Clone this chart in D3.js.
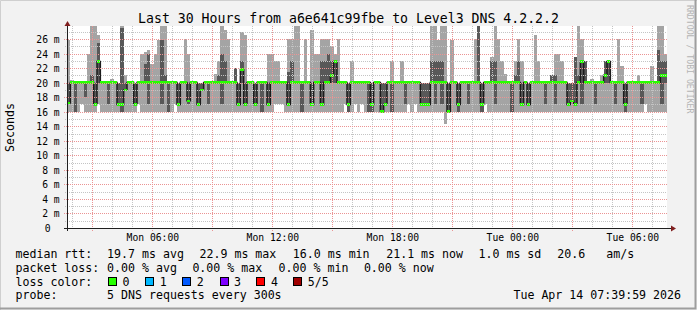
<!DOCTYPE html>
<html>
<head>
<meta charset="utf-8">
<script src="https://cdn.jsdelivr.net/npm/d3@7"></script>
<style>
  body { margin: 0; background: #ffffff; overflow: hidden; }
  text { font-family: "DejaVu Sans Mono", monospace; }
</style>
</head>
<body>
<script>
// 30 hours, one sample every 10 minutes (5 pings per sample, sorted: lo <= q1 <= med <= q3 <= hi), in ms
const lo = [
  16,16,16,16,17,16,16,16,16,17, 16,16,16,16,16,16,16,16,16,16, 16,17,16,16,16,16,16,16,16,16,
  16,16,17,16,16,16,16,16,16,16, 16,16,16,16,16,16,16,16,16,16, 16,16,16,16,16,16,16,16,16,16,
  16,16,17,17,17,16,16,16,16,16, 16,16,16,16,16,16,16,16,16,16, 16,16,16,17,16,16,17,16,17,16,
  16,16,16,16,16,16,16,16,16,16, 16,16,17,16,17,16,16,16,16,16, 16,16,16,14.3,16,16,16,16,16,16,
  16,16,16,16,16,17,16,16,16,16, 16,16,16,16,16,16,16,16,16,16, 16,16,16,16,16,16,16,16,16,16,
  16,16,16,16,16,16,16,16,16,16, 16,16,16,16,16,16,16,16,16,16, 16,16,16,17,16,16,16,16,16,16
];
const q1 = [
  17,20,16,20,20,18,20,20,17,20, 20,20,17,20,20,17,16,19,20,20, 17,20,20,20,17,20,20,20,17,20,
  16,20,20,17,20,20,17,20,20,17, 19,20,17,20,20,20,17,20,20,20, 20,17,20,17,20,20,17,20,16,20,
  17,20,20,20,20,20,17,20,20,20, 16,20,20,17,20,20,17,20,20,20, 20,20,20,20,16,20,20,20,20,20,
  16,16,20,20,16,17,20,16,20,20, 20,17,20,20,20,20,17,17,17,20, 17,20,17,20,16,20,20,16,20,20,
  17,20,20,20,16,20,20,20,17,20, 20,20,20,16,20,20,17,20,17,20, 20,20,20,17,20,20,17,20,20,20,
  17,17.5,17,20,17,20,20,20,17,20, 20,20,20,20,17,20,20,16,20,20, 20,20,17,20,20,20,20,20,17,20
];
const med = [
  17.2,20,20,20,20,20,20,20,17,22.9, 20,20,20,20,20,17,17,19,20,20, 17,20,20,20,20,20,20,20,20,20,
  20,20,20,17,20,20,17.5,20,20,17, 19,20,20,20,20,20,20,20,20,20, 20,17,21.8,17,20,20,17,20,20,20,
  17,20,20,20,20,20,17,20,20,20, 20,20,20,17,20,20,17,20,20,21, 22.9,20,20,20,17,20,20,20,20,20,
  20,17,20,20,16,17,20,20,20,20, 20,20,20,20,20,20,17,17,17,20, 20,20,20,20,16,20,20,17,20,20,
  20,20,20,20,17,20,20,20,20,20, 20,20,20,20,20,20,17,20,17,20, 20,20,20,20,20,20,20,20,20,20,
  17,17.5,17,20,22.9,20,20,20,20,20, 20,21,22.9,20,20,20,20,17,20,20, 20,20,20,20,20,20,20,20,21,21
];
const q3 = [
  20,20,20,20,20,20,20,21,20,25.5, 20,20,20,20,20,20,27.5,20,20,20, 20,20,20,22.5,24,20,20,20,25.8,21,
  20,20,20,20,20,20,20,20,20,20, 20,20,20,20,20,21,24,23,20,20, 22,20,23,20,20,20,20,20,20,20,
  20,20,20,20,20,20,21.5,23,20,20, 20,20,20,20,20,20,23,23,24,23, 23,20,20,20,20,20,20,20,20,20,
  20,20,20,20,20,20,20,20,20,20, 20,20,20,20,20,20,20,20,20,23, 23,23,23,20,20,20,20,20,20,20,
  20,20,20,27.8,20,20,20,23,23,20, 20,20,20,20,21,23,20,20,20,20, 20,20,20,20,20,21,21,20,20,20,
  20,20,23.5,21,23,23,20,20,20,20, 20,23,23,20,20,20,20,20,20,20, 20,20,20,20,20,20,20,24.5,23,23
];
const hi = [
  25.8,20.3,20,20,20,20,24,28,28,26.5, 20,20,20,20.5,20,20,28,21,20,20, 20,20,24,24.2,24.5,22.5,24,25.8,27.8,27.8,
  20,20,20,20,20,26,24,20,20,20, 20,20,20,20,21.2,23,27.8,27.2,26,20, 22,20,27,26.5,20,20,20,20,20,20,
  24,24,23,23,20,20,26,26,27.8,27.8, 20,26,20,27.2,24,24,26,26,26,25, 24,26,20,20,20,23,20,20,20,20,
  20,20,20,20,20,20,20,23,20,20, 23,20,20,20,20,20,20,20,20,27.8, 27.8,25.8,27.8,27.8,20,25.8,20,20,20,20,
  20,20,26,27.8,20,20,20,23.5,27.8,26, 23,21.2,20,20,23,26,23,20,20,20, 26.5,23,20,20,20,21,24,24,23,20,
  20,20,23.5,27.8,26,23,20,20.5,20,20, 21,23,23,20,20,26,22.3,20,20,20, 20,21,20,20,20,22.3,20,27.8,27.8,24
];

const yTicks = [0, 2, 4, 6, 8, 10, 12, 14, 16, 18, 20, 22, 24, 26];
const title = "Last 30 Hours from a6e641c99fbe to Level3 DNS 4.2.2.2";
const medianLegend = ["median rtt:", "19.7 ms avg", "22.9 ms max", "16.0 ms min", "21.1 ms now", "1.0 ms sd", "20.6", "am/s"];
const lossLegend = ["packet loss:", "0.00 % avg", "0.00 % max", "0.00 % min", "0.00 % now"];
const lossLabels = ["0", "1", "2", "3", "4", "5/5"];
const lossColors = ["#26ff00", "#00b8ff", "#0059ff", "#7e00ff", "#ff0000", "#a00000"];
const probeLegend = ["probe:", "5 DNS requests every 300s"];
const stamp = "Tue Apr 14 07:39:59 2026";

const W = 697, H = 310;
const pLeft = 67, pRight = 667, pBase = 228, pTop = 26;
const t0 = new Date(2026, 3, 13, 1, 44), t1 = new Date(2026, 3, 14, 7, 44);
const step = 10 * 60 * 1000;
const times = med.map((d, i) => new Date(+t0 + i * step));

const x = d3.scaleTime().domain([t0, t1]).range([pLeft, pRight]);
const y = d3.scaleLinear().domain([0, 27.79]).range([pBase, pTop]);

const svg = d3.select("body").append("svg")
  .attr("width", W).attr("height", H)
  .attr("xmlns", "http://www.w3.org/2000/svg");

// background + shading frame
svg.append("rect").attr("width", W).attr("height", H).attr("fill", "#f2f2f2");
svg.append("path").attr("d", `M0.5,${H}V0.5H${W}`).attr("fill", "none").attr("stroke", "#cfcfcf");
svg.append("path").attr("d", `M0,${H - 1.5}H${W - 1.5}V0`).attr("fill", "none")
  .attr("stroke", "#9e9e9e").attr("stroke-width", 2);

// canvas
svg.append("rect").attr("x", pLeft).attr("y", pTop)
  .attr("width", pRight - pLeft).attr("height", pBase - pTop).attr("fill", "#ffffff");

svg.append("clipPath").attr("id", "plot").append("rect")
  .attr("x", pLeft).attr("y", pTop).attr("width", pRight - pLeft).attr("height", pBase - pTop);

const plot = svg.append("g").attr("clip-path", "url(#plot)").attr("shape-rendering", "crispEdges");
const colX = i => x(times[i]);
const colW = i => x(new Date(+times[i] + step)) - x(times[i]);

// smoke: outer pair (lo..hi) light, inner pair (q1..q3) dark
plot.selectAll(".smoke1").data(med).enter().append("rect")
  .attr("x", (d, i) => colX(i)).attr("width", (d, i) => colW(i))
  .attr("y", (d, i) => y(hi[i])).attr("height", (d, i) => y(lo[i]) - y(hi[i]))
  .attr("fill", "#a4a4a4");
plot.selectAll(".smoke2").data(med).enter().append("rect")
  .attr("x", (d, i) => colX(i)).attr("width", (d, i) => colW(i))
  .attr("y", (d, i) => y(q3[i])).attr("height", (d, i) => y(q1[i]) - y(q3[i]))
  .attr("fill", "#585858");

// median connecting line
const pts = med.map((d, i) => [colX(i), y(d)]);
pts.push([pRight, y(med[med.length - 1])]);
plot.append("path")
  .attr("d", d3.line().curve(d3.curveStepAfter)(pts))
  .attr("fill", "none").attr("stroke", "#1c1c1c").attr("stroke-width", 1.5)
  .attr("shape-rendering", "auto");

// median marks coloured by loss (all 0 loss)
plot.selectAll(".med").data(med).enter().append("rect")
  .attr("x", (d, i) => colX(i)).attr("width", (d, i) => colW(i))
  .attr("y", d => y(d) - 1.2).attr("height", 2.4)
  .attr("fill", lossColors[0]);

// grid
const grid = svg.append("g").attr("shape-rendering", "crispEdges").attr("stroke-dasharray", "1,1");
grid.selectAll(".hmin").data(d3.range(1, 28, 2)).enter().append("line")
  .attr("x1", pLeft - 2).attr("x2", pRight)
  .attr("y1", d => Math.round(y(d)) + 0.5).attr("y2", d => Math.round(y(d)) + 0.5)
  .attr("stroke", "#c4c4c4");
grid.selectAll(".vmin").data(x.ticks(d3.timeHour.every(1))).enter().append("line")
  .attr("x1", d => Math.round(x(d)) + 0.5).attr("x2", d => Math.round(x(d)) + 0.5)
  .attr("y1", pTop).attr("y2", pBase)
  .attr("stroke", "#c4c4c4");
grid.selectAll(".hmaj").data(yTicks.slice(1)).enter().append("line")
  .attr("x1", pLeft - 3).attr("x2", pRight)
  .attr("y1", d => Math.round(y(d)) + 0.5).attr("y2", d => Math.round(y(d)) + 0.5)
  .attr("stroke", "#eb9494");
grid.selectAll(".vmaj").data(x.ticks(d3.timeHour.every(3))).enter().append("line")
  .attr("x1", d => Math.round(x(d)) + 0.5).attr("x2", d => Math.round(x(d)) + 0.5)
  .attr("y1", pTop).attr("y2", pBase + 3)
  .attr("stroke", "#eb9494");

// axes lines + arrows
const axisCol = "#1f1f1f", arrowCol = "#801f1f";
svg.append("line").attr("x1", pLeft - 3).attr("x2", pRight + 5).attr("y1", pBase + 0.5).attr("y2", pBase + 0.5)
  .attr("stroke", axisCol);
svg.append("line").attr("x1", pLeft + 0.5).attr("x2", pLeft + 0.5).attr("y1", pBase + 3).attr("y2", pTop - 2)
  .attr("stroke", axisCol);
svg.append("path").attr("d", `M${pLeft + 0.5},${pTop - 5}L${pLeft - 2.5},${pTop}L${pLeft + 3.5},${pTop}Z`).attr("fill", arrowCol);
svg.append("path").attr("d", `M${pRight + 9},${pBase + 0.5}L${pRight + 4},${pBase - 2.5}L${pRight + 4},${pBase + 3.5}Z`).attr("fill", arrowCol);

// y axis labels
const yAxis = svg.append("g").attr("transform", "translate(59.7,0)")
  .call(d3.axisLeft(y).tickValues(yTicks).tickSize(0).tickPadding(0)
    .tickFormat(d => d === 0 ? "0" : d + " m"));
yAxis.select(".domain").remove();
yAxis.selectAll("text").attr("font-size", 9.7).attr("fill", "#000").attr("dy", "0.36em")
  .attr("font-family", '"DejaVu Sans Mono", monospace')
  .attr("x", d => d === 0 ? -9 : 0);

// x axis labels
const xAxis = svg.append("g").attr("transform", `translate(0,${pBase})`)
  .call(d3.axisBottom(x).ticks(d3.timeHour.every(6)).tickSize(0).tickPadding(6.5)
    .tickFormat(d3.timeFormat("%a %H:%M")));
xAxis.select(".domain").remove();
xAxis.selectAll("text").attr("font-size", 9.7).attr("fill", "#000")
  .attr("font-family", '"DejaVu Sans Mono", monospace');

// titles
svg.append("text").attr("x", W / 2).attr("y", 23.3).attr("text-anchor", "middle")
  .attr("font-size", 13.2).text(title);
svg.append("text").attr("transform", "translate(14,127.5) rotate(-90)").attr("text-anchor", "middle")
  .attr("font-size", 11.6).text("Seconds");
svg.append("text").attr("transform", "translate(686.5,5) rotate(90)")
  .attr("font-size", 8.2).attr("fill", "#b4b4b4").text("RRDTOOL / TOBI OETIKER");

// legend
const lg = svg.append("g").attr("font-size", 11.6).attr("fill", "#000");
const medX = [16, 107.6, 200, 293.3, 386.7, 479, 557.8, 606.7];
medianLegend.forEach((t, i) => lg.append("text").attr("x", medX[i] - 0.5).attr("y", 258).text(t));
const lossX = [16, 107.6, 192.9, 279.1, 364.4];
lossLegend.forEach((t, i) => lg.append("text").attr("x", lossX[i] - 0.5).attr("y", 271.8).text(t));
lg.append("text").attr("x", 15.5).attr("y", 285.6).text("loss color:");
const boxX = [108, 145.3, 182.2, 219.6, 256.4, 293.3];
lossLabels.forEach((t, i) => {
  lg.append("rect").attr("x", Math.round(boxX[i]) + 0.5).attr("y", 277.5).attr("width", 8).attr("height", 8)
    .attr("fill", lossColors[i]).attr("stroke", "#000").attr("stroke-width", 1);
  lg.append("text").attr("x", boxX[i] + 14.5).attr("y", 285.6).text(t);
});
lg.append("text").attr("x", 15.5).attr("y", 299.4).text(probeLegend[0]);
lg.append("text").attr("x", 107.1).attr("y", 299.4).text(probeLegend[1]);
lg.append("text").attr("x", 681).attr("y", 299.4).attr("text-anchor", "end").text(stamp);
</script>
</body>
</html>
